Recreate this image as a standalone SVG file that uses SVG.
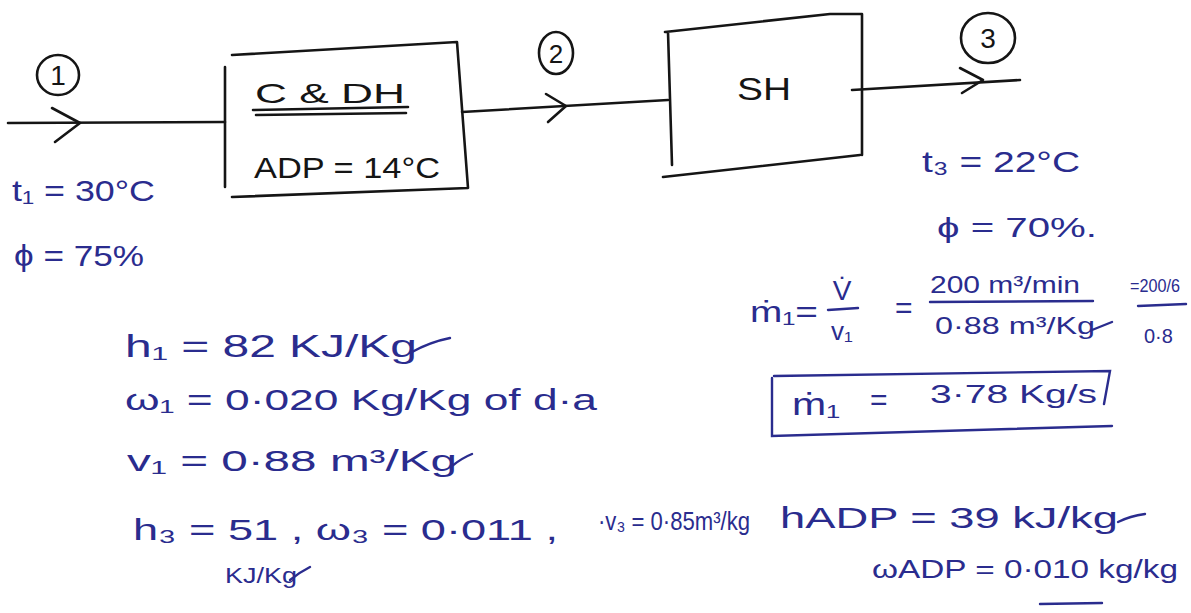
<svg xmlns="http://www.w3.org/2000/svg" width="1191" height="613" viewBox="0 0 1191 613">
<style>
.ln{fill:none;stroke:#151515;stroke-width:2.6;stroke-linecap:round;stroke-linejoin:round}
.bl{fill:none;stroke:#2a2c8e;stroke-width:2.4;stroke-linecap:round}
.tk{font-family:"Liberation Sans",Arial,sans-serif;fill:#151515}
.tb{font-family:"Liberation Sans",Arial,sans-serif;fill:#2a2c8e}
</style>
<rect width="1191" height="613" fill="#ffffff"/>
<g id="connectors">
<path class="ln" d="M8,123 L225,122"/>
<path class="ln" d="M52,108 L80,123 L55,142"/>
<path class="ln" d="M462,112 L668,100"/>
<path class="ln" d="M546,94 L566,106 L548,122"/>
<path class="ln" d="M852,90 L1020,80"/>
<path class="ln" d="M960,68 L983,80 L962,93"/>
</g>
<g id="state1">
<ellipse class="ln" cx="58" cy="75" rx="21" ry="20"/>
<text class="tk" x="58" y="85" font-size="28" text-anchor="middle">1</text>
</g>
<g id="state2">
<ellipse class="ln" cx="556" cy="53" rx="17" ry="21"/>
<text class="tk" x="556" y="63" font-size="26" text-anchor="middle">2</text>
</g>
<g id="state3">
<ellipse class="ln" cx="988" cy="38" rx="27" ry="25"/>
<text class="tk" x="988" y="48" font-size="28" text-anchor="middle">3</text>
</g>
<g id="cdh">
<path class="ln" d="M225,67 L225,187 M232,55 L457,42 L468,188 L232,197"/>
<text class="tk" x="255" y="103" font-size="28" textLength="150" lengthAdjust="spacingAndGlyphs">C &amp; DH</text>
<path class="ln" d="M253,110 L408,107 M256,115 L406,113" stroke-width="2"/>
<text class="tk" x="254" y="178" font-size="30" textLength="186" lengthAdjust="spacingAndGlyphs">ADP = 14°C</text>
</g>
<g id="sh">
<path class="ln" d="M665,32 L830,14 L862,14 L862,155 M668,32 L672,165 M663,177 L860,155"/>
<text class="tk" x="737" y="100" font-size="32" textLength="54" lengthAdjust="spacingAndGlyphs">SH</text>
</g>
<g id="notes">
<text class="tb" x="12" y="201" font-size="30" textLength="143" lengthAdjust="spacingAndGlyphs">t₁ = 30°C</text>
<text class="tb" x="14" y="266" font-size="30" textLength="130" lengthAdjust="spacingAndGlyphs">ϕ = 75%</text>
<text class="tb" x="922" y="172" font-size="30" textLength="158" lengthAdjust="spacingAndGlyphs">t₃ = 22°C</text>
<text class="tb" x="937" y="237" font-size="28" textLength="160" lengthAdjust="spacingAndGlyphs">ϕ = 70%.</text>
<text class="tb" x="125" y="357" font-size="32" textLength="292" lengthAdjust="spacingAndGlyphs">h₁ = 82 KJ/Kg</text>
<path class="bl" d="M412,352 Q430,342 450,338"/>
<text class="tb" x="125" y="410" font-size="30" textLength="472" lengthAdjust="spacingAndGlyphs">ω₁ = 0·020 Kg/Kg of d·a</text>
<text class="tb" x="127" y="471" font-size="30" textLength="330" lengthAdjust="spacingAndGlyphs">v₁ = 0·88 m³/Kg</text>
<path class="bl" d="M452,466 Q462,458 472,454"/>
<text class="tb" x="133" y="540" font-size="30" textLength="425" lengthAdjust="spacingAndGlyphs">h₃ = 51 , ω₃ = 0·011 ,</text>
<text class="tb" x="225" y="583" font-size="22" textLength="72" lengthAdjust="spacingAndGlyphs">KJ/Kg</text>
<path class="bl" d="M290,580 Q300,572 310,567"/>
<text class="tb" x="598" y="530" font-size="26" textLength="152" lengthAdjust="spacingAndGlyphs">·v₃ = 0·85m³/kg</text>
<text class="tb" x="780" y="528" font-size="30" textLength="338" lengthAdjust="spacingAndGlyphs">hADP = 39 kJ/kg</text>
<path class="bl" d="M1118,522 Q1130,516 1145,514"/>
<text class="tb" x="872" y="578" font-size="26" textLength="306" lengthAdjust="spacingAndGlyphs">ωADP = 0·010 kg/kg</text>
<path class="bl" d="M1040,604 L1102,603"/>
<text class="tb" x="750" y="322" font-size="30" textLength="68" lengthAdjust="spacingAndGlyphs">ṁ₁=</text>
<text class="tb" x="842" y="300" font-size="28" text-anchor="middle">V̇</text>
<path class="bl" d="M828,310 L858,308"/>
<text class="tb" x="842" y="340" font-size="26" text-anchor="middle">v₁</text>
<text class="tb" x="895" y="318" font-size="30">=</text>
<text class="tb" x="930" y="293" font-size="24" textLength="150" lengthAdjust="spacingAndGlyphs">200 m³/min</text>
<path class="bl" d="M930,302 L1093,301"/>
<text class="tb" x="935" y="334" font-size="24" textLength="160" lengthAdjust="spacingAndGlyphs">0·88 m³/Kg</text>
<path class="bl" d="M1092,330 L1112,322"/>
<text class="tb" x="1130" y="292" font-size="18" textLength="50" lengthAdjust="spacingAndGlyphs">=200/6</text>
<path class="bl" d="M1138,306 L1186,304"/>
<text class="tb" x="1144" y="343" font-size="20">0·8</text>
<path class="bl" d="M774,376 L1110,371 L1104,404 M772,378 L772,436 L1112,426"/>
<text class="tb" x="792" y="415" font-size="32" textLength="48" lengthAdjust="spacingAndGlyphs">ṁ₁</text>
<text class="tb" x="870" y="410" font-size="30">=</text>
<text class="tb" x="930" y="403" font-size="26" textLength="167" lengthAdjust="spacingAndGlyphs">3·78 Kg/s</text>
</g>
</svg>
